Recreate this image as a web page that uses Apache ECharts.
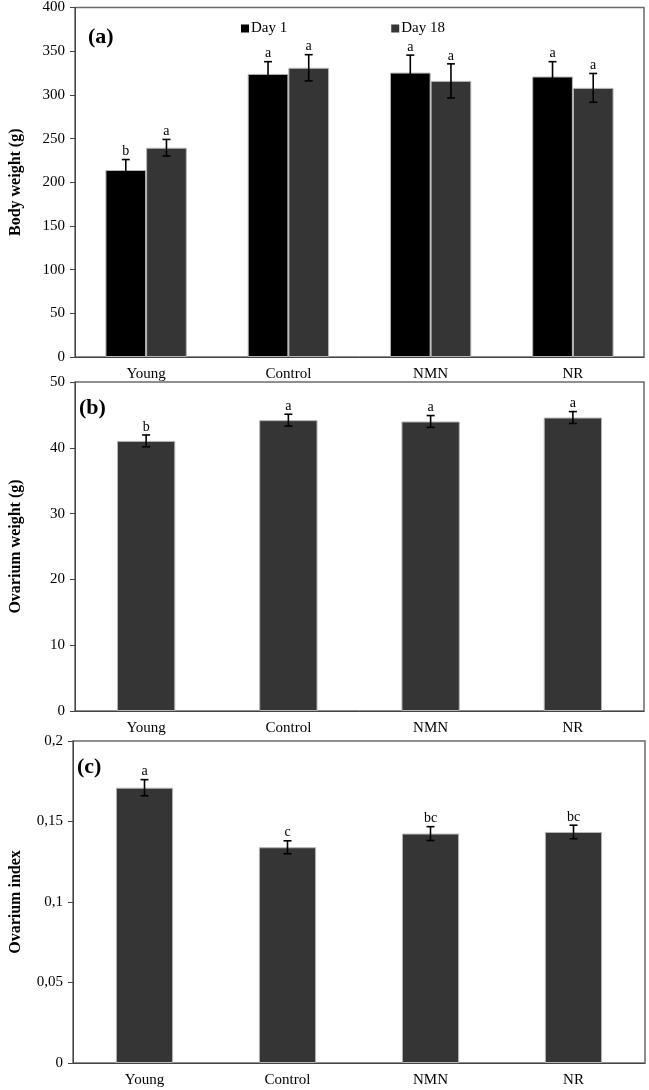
<!DOCTYPE html>
<html><head><meta charset="utf-8">
<script src="https://cdn.jsdelivr.net/npm/echarts@6/dist/echarts.min.js"></script>
<style>html,body{margin:0;padding:0;background:#fff}#c{width:649px;height:1090px}</style>
</head><body><div id="c"></div>
<script>
// ---- data ----
const categories = ['Young', 'Control', 'NMN', 'NR'];
const bodyDay1 = [214, 324, 325.5, 321];
const bodyDay1Err = [12, 14, 20, 17];
const bodyDay1Letters = ['b', 'a', 'a', 'a'];
const bodyDay18 = [239.5, 331, 316, 308];
const bodyDay18Err = [9.5, 15, 19.5, 16.5];
const bodyDay18Letters = ['a', 'a', 'a', 'a'];
const ovWeight = [41.05, 44.2, 44.0, 44.6];
const ovWeightErr = [0.9, 0.9, 0.9, 0.9];
const ovWeightLetters = ['b', 'a', 'a', 'a'];
const ovIndex = [0.171, 0.134, 0.1425, 0.1435];
const ovIndexErr = [0.005, 0.004, 0.0043, 0.0042];
const ovIndexLetters = ['a', 'c', 'bc', 'bc'];

const FONT = 'Liberation Serif';
const DARK = '#353535';

function errSeries(g, vals, errs, letters, offFrac) {
  return {
    type: 'custom', xAxisIndex: g, yAxisIndex: g, z: 10, silent: true,
    data: vals.map((v, i) => [i, v, errs[i]]),
    renderItem: function (params, api) {
      const i = api.value(0), v = api.value(1), e = api.value(2);
      const catW = api.size([1, 0])[0];
      const c = api.coord([i, v]);
      const x = c[0] + offFrac * catW;
      const top = api.coord([i, v + e])[1];
      const bot = api.coord([i, v - e])[1];
      const cap = 4;
      const st = { stroke: '#000', lineWidth: 1.6 };
      return {
        type: 'group', children: [
          { type: 'line', shape: { x1: x, y1: top, x2: x, y2: bot }, style: st },
          { type: 'line', shape: { x1: x - cap, y1: top, x2: x + cap, y2: top }, style: st },
          { type: 'line', shape: { x1: x - cap, y1: bot, x2: x + cap, y2: bot }, style: st },
          { type: 'text', style: { text: letters[params.dataIndex], x: x, y: top - 1, textAlign: 'center', textVerticalAlign: 'bottom', font: '14px "' + FONT + '"', fill: '#000' } }
        ]
      };
    }
  };
}

const grids = [
  { left: 66, right: 5, top: 6, height: 351 },
  { left: 66, right: 5, top: 382, height: 329 },
  { left: 64, right: 4, top: 741, height: 322 }
];
const names = ['Body weight (g)', 'Ovarium weight (g)', 'Ovarium index'];
const ranges = [[0, 400, 50], [0, 50, 10], [0, 0.2, 0.05]];

const option = {
  animation: false,
  backgroundColor: '#fff',
  textStyle: { fontFamily: FONT },
  grid: grids.map(g => Object.assign({ show: true, borderColor: '#6a6a6a', borderWidth: 1.5, backgroundColor: 'transparent' }, g)),
  legend: {
    data: ['Day 1', 'Day 18'], left: 236, top: 16, icon: 'rect', itemWidth: 8, itemHeight: 8, itemGap: 104,
    itemStyle: { borderWidth: 0 },
    textStyle: { fontFamily: FONT, fontSize: 15, color: '#000', padding: [0, 0, 0, -3] }
  },
  xAxis: grids.map((g, k) => ({
    type: 'category', gridIndex: k, data: categories,
    axisLine: { lineStyle: { color: '#444', width: 1 } },
    axisTick: { show: false },
    axisLabel: { color: '#000', fontFamily: FONT, fontSize: 15, margin: 10 }
  })),
  yAxis: grids.map((g, k) => ({
    type: 'value', gridIndex: k, min: ranges[k][0], max: ranges[k][1], interval: ranges[k][2],
    name: names[k], nameLocation: 'middle', nameGap: k === 2 ? 49 : 51,
    nameTextStyle: { fontFamily: FONT, fontSize: 16, fontWeight: 'bold', color: '#000' },
    axisLine: { show: true, lineStyle: { color: '#444', width: 1 } },
    axisTick: { show: true, length: 5, lineStyle: { color: '#444' } },
    splitLine: { show: false },
    axisLabel: {
      color: '#000', fontFamily: FONT, fontSize: 15, margin: 10,
      formatter: k === 2 ? (v => (+v.toFixed(2)).toString().replace('.', ',')) : (v => String(v))
    }
  })),
  series: [
    { name: 'Day 1', type: 'bar', xAxisIndex: 0, yAxisIndex: 0, data: bodyDay1, barWidth: '28.6%', barGap: '0%',
      itemStyle: { color: '#000', borderColor: '#b5b5b5', borderWidth: 1 } },
    { name: 'Day 18', type: 'bar', xAxisIndex: 0, yAxisIndex: 0, data: bodyDay18, barWidth: '28.6%', barGap: '0%',
      itemStyle: { color: DARK, borderColor: '#b5b5b5', borderWidth: 1 } },
    errSeries(0, bodyDay1, bodyDay1Err, bodyDay1Letters, -0.143),
    errSeries(0, bodyDay18, bodyDay18Err, bodyDay18Letters, 0.143),
    { type: 'bar', xAxisIndex: 1, yAxisIndex: 1, data: ovWeight, barWidth: '41%',
      itemStyle: { color: DARK, borderColor: '#b5b5b5', borderWidth: 1 } },
    errSeries(1, ovWeight, ovWeightErr, ovWeightLetters, 0),
    { type: 'bar', xAxisIndex: 2, yAxisIndex: 2, data: ovIndex, barWidth: '40%',
      itemStyle: { color: DARK, borderColor: '#b5b5b5', borderWidth: 1 } },
    errSeries(2, ovIndex, ovIndexErr, ovIndexLetters, 0)
  ],
  graphic: [
    { type: 'text', left: 88, top: 26, style: { text: '(a)', font: 'bold 22px "' + FONT + '"', fill: '#000' } },
    { type: 'text', left: 79, top: 397, style: { text: '(b)', font: 'bold 22px "' + FONT + '"', fill: '#000' } },
    { type: 'text', left: 77, top: 756, style: { text: '(c)', font: 'bold 22px "' + FONT + '"', fill: '#000' } }
  ]
};
const chart = echarts.init(document.getElementById('c'), null, { renderer: 'canvas' });
chart.setOption(option);
</script>
</body></html>
